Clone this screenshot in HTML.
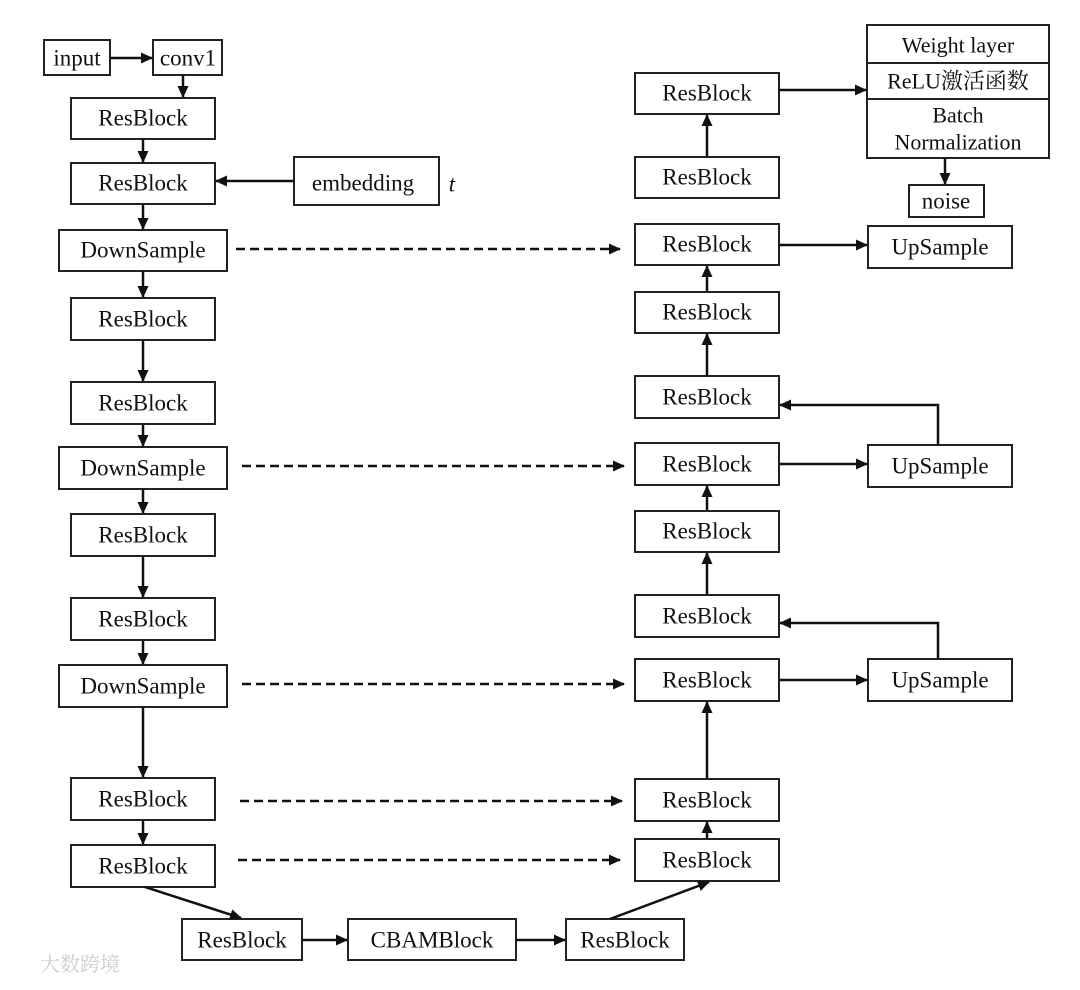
<!DOCTYPE html>
<html><head><meta charset="utf-8"><style>
body{margin:0;background:#fff}
svg text{font-family:"Liberation Serif","Noto Serif CJK SC",serif;font-size:23px;fill:#111;text-anchor:middle;dominant-baseline:central}
</style></head><body>
<svg width="1080" height="985" viewBox="0 0 1080 985" xmlns="http://www.w3.org/2000/svg">
<defs><marker id="a" markerWidth="12" markerHeight="12" refX="11" refY="6" orient="auto" markerUnits="userSpaceOnUse"><path d="M0,0.5 L12,6 L0,11.5 z" fill="#111"/></marker></defs>
<g fill="none" stroke="#222" stroke-width="2">
<rect x="44" y="40" width="66" height="35"/><rect x="153" y="40" width="69" height="35"/>
<rect x="71" y="98" width="144" height="41"/><rect x="71" y="163" width="144" height="41"/>
<rect x="294" y="157" width="145" height="48"/>
<rect x="59" y="230" width="168" height="41"/>
<rect x="71" y="298" width="144" height="42"/><rect x="71" y="382" width="144" height="42"/>
<rect x="59" y="447" width="168" height="42"/>
<rect x="71" y="514" width="144" height="42"/><rect x="71" y="598" width="144" height="42"/>
<rect x="59" y="665" width="168" height="42"/>
<rect x="71" y="778" width="144" height="42"/><rect x="71" y="845" width="144" height="42"/>
<rect x="182" y="919" width="120" height="41"/><rect x="348" y="919" width="168" height="41"/><rect x="566" y="919" width="118" height="41"/>
<rect x="635" y="73" width="144" height="41"/><rect x="635" y="157" width="144" height="41"/>
<rect x="635" y="224" width="144" height="41"/><rect x="635" y="292" width="144" height="41"/>
<rect x="635" y="376" width="144" height="42"/><rect x="635" y="443" width="144" height="42"/>
<rect x="635" y="511" width="144" height="41"/><rect x="635" y="595" width="144" height="42"/>
<rect x="635" y="659" width="144" height="42"/><rect x="635" y="779" width="144" height="42"/>
<rect x="635" y="839" width="144" height="42"/>
<rect x="868" y="226" width="144" height="42"/><rect x="868" y="445" width="144" height="42"/><rect x="868" y="659" width="144" height="42"/>
<rect x="867" y="25" width="182" height="133"/><line x1="867" y1="63" x2="1049" y2="63"/><line x1="867" y1="99" x2="1049" y2="99"/>
<rect x="909" y="185" width="75" height="32"/>
</g>
<g stroke="#111" stroke-width="2.5" fill="none" marker-end="url(#a)">
<line x1="110" y1="58" x2="152" y2="58"/>
<line x1="183" y1="75" x2="183" y2="97"/>
<line x1="143" y1="139" x2="143" y2="162"/>
<line x1="294" y1="181" x2="216" y2="181"/>
<line x1="143" y1="204" x2="143" y2="229"/>
<line x1="143" y1="271" x2="143" y2="297"/>
<line x1="143" y1="340" x2="143" y2="381"/>
<line x1="143" y1="424" x2="143" y2="446"/>
<line x1="143" y1="489" x2="143" y2="513"/>
<line x1="143" y1="556" x2="143" y2="597"/>
<line x1="143" y1="640" x2="143" y2="664"/>
<line x1="143" y1="707" x2="143" y2="777"/>
<line x1="143" y1="820" x2="143" y2="844"/>
<line x1="145" y1="887" x2="241" y2="918"/>
<line x1="302" y1="940" x2="347" y2="940"/>
<line x1="516" y1="940" x2="565" y2="940"/>
<line x1="610" y1="919" x2="709" y2="882"/>
<line x1="707" y1="839" x2="707" y2="822"/>
<line x1="707" y1="779" x2="707" y2="702"/>
<line x1="707" y1="595" x2="707" y2="553"/>
<line x1="707" y1="511" x2="707" y2="486"/>
<line x1="707" y1="376" x2="707" y2="334"/>
<line x1="707" y1="292" x2="707" y2="266"/>
<line x1="707" y1="157" x2="707" y2="115"/>
<line x1="779" y1="680" x2="867" y2="680"/>
<line x1="779" y1="464" x2="867" y2="464"/>
<line x1="779" y1="245" x2="867" y2="245"/>
<line x1="779" y1="90" x2="866" y2="90"/>
<line x1="945" y1="158" x2="945" y2="184"/>
<polyline points="938,659 938,623 780,623"/>
<polyline points="938,445 938,405 780,405"/>
</g>
<g stroke="#111" stroke-width="2.5" fill="none" stroke-dasharray="9,5" marker-end="url(#a)">
<line x1="236" y1="249" x2="620" y2="249"/>
<line x1="242" y1="466" x2="624" y2="466"/>
<line x1="242" y1="684" x2="624" y2="684"/>
<line x1="240" y1="801" x2="622" y2="801"/>
<line x1="238" y1="860" x2="620" y2="860"/>
</g>
<g>
<text x="77" y="58">input</text><text x="188" y="58">conv1</text>
<text x="143" y="118">ResBlock</text><text x="143" y="183">ResBlock</text>
<text x="363" y="183">embedding</text><text x="452" y="184" font-style="italic">t</text>
<text x="143" y="250">DownSample</text>
<text x="143" y="319">ResBlock</text><text x="143" y="403">ResBlock</text>
<text x="143" y="468">DownSample</text>
<text x="143" y="535">ResBlock</text><text x="143" y="619">ResBlock</text>
<text x="143" y="686">DownSample</text>
<text x="143" y="799">ResBlock</text><text x="143" y="866">ResBlock</text>
<text x="242" y="940">ResBlock</text><text x="432" y="940">CBAMBlock</text><text x="625" y="940">ResBlock</text>
<text x="707" y="93">ResBlock</text><text x="707" y="177">ResBlock</text>
<text x="707" y="244">ResBlock</text><text x="707" y="312">ResBlock</text>
<text x="707" y="397">ResBlock</text><text x="707" y="464">ResBlock</text>
<text x="707" y="531">ResBlock</text><text x="707" y="616">ResBlock</text>
<text x="707" y="680">ResBlock</text><text x="707" y="800">ResBlock</text>
<text x="707" y="860">ResBlock</text>
<text x="940" y="247">UpSample</text><text x="940" y="466">UpSample</text><text x="940" y="680">UpSample</text>
<text x="958" y="45" style="font-size:22px">Weight layer</text><text x="958" y="81" style="font-size:22px">ReLU激活函数</text>
<text x="958" y="115" style="font-size:22px">Batch</text><text x="958" y="142" style="font-size:22px">Normalization</text>
<text x="946" y="201">noise</text>
<text x="80" y="965" style="fill:#ccc;font-size:20px">大数跨境</text>
</g>
</svg>
</body></html>
